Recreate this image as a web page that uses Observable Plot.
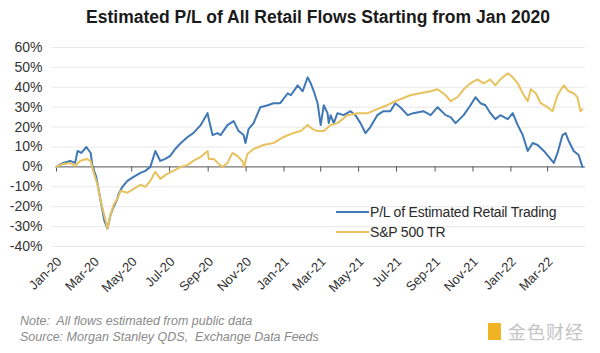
<!DOCTYPE html>
<html><head><meta charset="utf-8">
<script src="https://cdn.jsdelivr.net/npm/d3@7"></script>
<script src="https://cdn.jsdelivr.net/npm/@observablehq/plot@0.6"></script>
<style>
body{margin:0;background:#fff;font-family:"Liberation Sans",Arial,sans-serif;}
#wrap{position:relative;width:600px;height:353px;overflow:hidden;background:#fff}
#title{position:absolute;top:7px;left:18px;width:600px;text-align:center;font-weight:bold;font-size:17.5px;color:#1a1a1a;line-height:20px}
#chart{position:absolute;top:35px;left:0}
.leg{position:absolute;left:336px;font-size:14px;color:#2a2a2a;white-space:nowrap;line-height:16px;letter-spacing:-0.2px}
.leg span.ln{display:inline-block;width:33px;height:0;border-top:2px solid;vertical-align:middle;margin-right:1px;position:relative;top:-1px}
.foot{position:absolute;left:20px;font-size:12.5px;font-style:italic;color:#8a8a8a;white-space:nowrap;line-height:15px}
#wm{position:absolute;left:488px;top:318px;height:22px;white-space:nowrap}
#wm .logo{display:inline-block;width:13px;height:17px;background:#f0b323;vertical-align:middle;margin-right:7px}
#wm .t{font-family:"Noto Sans CJK SC",sans-serif;font-size:18px;color:#c4c4c4;vertical-align:middle;letter-spacing:1px}
</style></head>
<body><div id="wrap">
<div id="title">Estimated P/L of All Retail Flows Starting from Jan 2020</div>
<div id="chart"></div>
<div class="leg" style="top:204px"><span class="ln" style="border-color:#3f78b5"></span>P/L of Estimated Retail Trading</div>
<div class="leg" style="top:224px"><span class="ln" style="border-color:#e8c25e"></span>S&amp;P 500 TR</div>
<div class="foot" style="top:314px">Note:&nbsp; All flows estimated from public data</div>
<div class="foot" style="top:330px">Source: Morgan Stanley QDS,&nbsp; Exchange Data Feeds</div>
<div id="wm"><span class="logo"></span><span class="t">金色财经</span></div>
</div>
<script>
const retailDates = ["2020-01-01","2020-01-12","2020-01-23","2020-01-31","2020-02-04","2020-02-10","2020-02-18","2020-02-25","2020-02-28","2020-03-05","2020-03-12","2020-03-18","2020-03-23","2020-03-28","2020-04-02","2020-04-08","2020-04-10","2020-04-16","2020-04-24","2020-05-04","2020-05-15","2020-05-23","2020-05-31","2020-06-08","2020-06-16","2020-06-24","2020-07-02","2020-07-10","2020-07-19","2020-07-30","2020-08-08","2020-08-20","2020-08-31","2020-09-02","2020-09-08","2020-09-16","2020-09-21","2020-10-02","2020-10-12","2020-10-20","2020-10-28","2020-10-31","2020-11-05","2020-11-13","2020-11-24","2020-12-06","2020-12-15","2020-12-26","2021-01-07","2021-01-12","2021-01-23","2021-01-31","2021-02-08","2021-02-13","2021-02-18","2021-02-24","2021-03-01","2021-03-06","2021-03-12","2021-03-14","2021-03-17","2021-03-22","2021-03-28","2021-04-07","2021-04-18","2021-04-26","2021-05-04","2021-05-12","2021-05-20","2021-05-31","2021-06-10","2021-06-21","2021-06-29","2021-07-07","2021-07-19","2021-07-28","2021-08-13","2021-08-25","2021-09-05","2021-09-18","2021-09-26","2021-10-04","2021-10-17","2021-10-28","2021-11-05","2021-11-13","2021-11-21","2021-11-29","2021-12-07","2021-12-15","2021-12-27","2022-01-04","2022-01-12","2022-01-20","2022-01-28","2022-02-05","2022-02-13","2022-02-23","2022-03-03","2022-03-11","2022-03-17","2022-03-25","2022-03-30","2022-04-04","2022-04-12","2022-04-20","2022-04-26"];
const retailValues = [0,2,3,2,8,7,10,7,0,-5,-17,-27,-31,-24,-20,-16,-13.5,-10,-7,-5,-3,-2,0,8,3,4,5.5,9,12,15,17,21,27,24,16,17,16,21,23,18,16,12,19,22,30,31,32,32,37,36,41,38,45,42,38,32,21,31,27,22,26,22,27,26,28,26,22,17,20,26,28,28,32,30,26,27,28,26,30,26,25,22,26,31,35,32,31,27,24,26,24,27,21,16,8,12,11,8,5,2,7,16,17,13,8,6,0];

const spxDates = ["2020-01-01","2020-01-12","2020-01-23","2020-01-31","2020-02-08","2020-02-18","2020-02-25","2020-02-29","2020-03-07","2020-03-12","2020-03-20","2020-03-23","2020-03-28","2020-04-02","2020-04-08","2020-04-13","2020-04-24","2020-05-04","2020-05-15","2020-05-23","2020-05-31","2020-06-08","2020-06-16","2020-06-27","2020-07-07","2020-07-19","2020-07-30","2020-08-08","2020-08-20","2020-08-31","2020-09-02","2020-09-10","2020-09-18","2020-09-24","2020-10-02","2020-10-10","2020-10-18","2020-10-26","2020-10-29","2020-11-03","2020-11-13","2020-11-29","2020-12-15","2020-12-31","2021-01-16","2021-01-28","2021-02-08","2021-02-16","2021-02-24","2021-03-06","2021-03-17","2021-03-28","2021-04-13","2021-04-30","2021-05-16","2021-05-31","2021-06-16","2021-06-29","2021-07-07","2021-07-23","2021-08-08","2021-08-25","2021-09-05","2021-09-18","2021-09-26","2021-10-07","2021-10-17","2021-10-28","2021-11-08","2021-11-18","2021-11-29","2021-12-07","2021-12-15","2021-12-27","2022-01-04","2022-01-12","2022-01-20","2022-01-28","2022-02-02","2022-02-10","2022-02-18","2022-03-01","2022-03-09","2022-03-17","2022-03-27","2022-04-04","2022-04-12","2022-04-18","2022-04-23","2022-04-26"];
const spxValues = [0,1.5,2,0.5,3,4,3,-2,-9,-17,-27,-31,-24,-19,-16,-12,-13,-11,-9,-10,-7,-2.5,-6,-3.5,-2,0,1,3,5,8,4,4,1.5,0,2,7,5.5,3,0,6.5,9,11,12,15,17,18,21,19,18,18,21,22,26,27,27,29,31,33,34,36,37,38,39,36,33,35,39,42,44,42,44,41,44,47,45,42,37,33,39,37,32,30,28,36,41,38,37,35,28,29];

const tickDates = ["2020-01-01","2020-03-01","2020-05-01","2020-07-01","2020-09-01","2020-11-01","2021-01-01","2021-03-01","2021-05-01","2021-07-01","2021-09-01","2021-11-01","2022-01-01","2022-03-01"];
const tickLabels = ["Jan-20","Mar-20","May-20","Jul-20","Sep-20","Nov-20","Jan-21","Mar-21","May-21","Jul-21","Sep-21","Nov-21","Jan-22","Mar-22"];
const yTicks = [-40,-30,-20,-10,0,10,20,30,40,50,60];

const retail = retailDates.map((d,i)=>({date:new Date(d), value:retailValues[i]}));
const spx = spxDates.map((d,i)=>({date:new Date(d), value:spxValues[i]}));
const ticks = tickDates.map((d,i)=>({date:new Date(d), label:tickLabels[i]}));

const chart = Plot.plot({
  width:600, height:275,
  marginLeft:56, marginRight:15, marginTop:12, marginBottom:64,
  style:{fontFamily:"'Liberation Sans', Arial, sans-serif", background:"#fff"},
  x:{type:"utc", domain:[new Date("2020-01-01"), new Date("2022-05-01")], axis:null},
  y:{domain:[-40,60], axis:null},
  marks:[
    Plot.ruleY(yTicks.filter(d=>d!==0), {stroke:"#e9e9e9", x1:new Date("2019-12-25"), x2:new Date("2022-05-01")}),
    Plot.axisY(yTicks, {tickSize:0, tickPadding:14, label:null, tickFormat:d=>d+"%", fontSize:14, fill:"#333"}),
    Plot.ruleY([0], {stroke:"#555", strokeWidth:1}),
    Plot.ruleX(ticks, {x:"date", y1:0, y2:-2.6, stroke:"#555"}),
    Plot.text(ticks, {x:"date", y:-40, dy:13, dx:3, rotate:-45, textAnchor:"end", text:"label", fontSize:13, fill:"#333"}),
    Plot.line(retail, {x:"date", y:"value", stroke:"#3f78b5", strokeWidth:2}),
    Plot.line(spx, {x:"date", y:"value", stroke:"#e8c25e", strokeWidth:2})
  ]
});
document.getElementById("chart").appendChild(chart);
</script>
</body></html>
